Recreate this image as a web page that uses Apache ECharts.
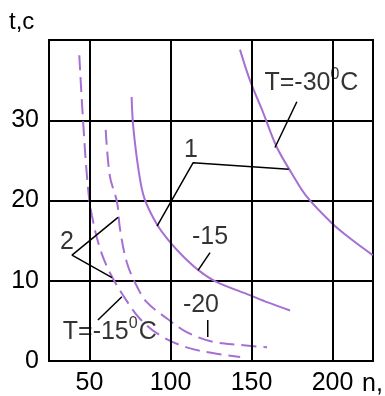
<!DOCTYPE html>
<html>
<head>
<meta charset="utf-8">
<script src="https://cdn.jsdelivr.net/npm/echarts@6/dist/echarts.min.js"></script>
</head>
<body style="margin:0;background:#fff;">
<div id="chart" style="width:385px;height:396px;"></div>
<script type="text/javascript">
	// тики осей
	var xTicks = [50, 100, 150, 200];
	var yTicks = [0, 10, 20, 30];

	// кривые t(n): [n, t]
	var curveM30 = [[142.9,38.8],[149,35.0],[157.3,30.9],[165.5,26.7],[174.8,23.4],[184,20.5],[199.5,17.2],[212,15.1],[224.8,13.2]];
	var curveM15 = [[76,32.9],[77,29.2],[80.5,23.5],[84,20.2],[91.7,17.0],[99.7,14.8],[108,13],[118,11.2],[128,9.9],[149,8.2],[160,7.3],[173.8,6.3]];
	var dashM15 = [[43.7,38.1],[46,30],[49,21.7],[51.5,18.1],[56.5,14],[62.6,11],[70.7,8.2],[81,5.3],[93.5,3.2],[110,1.7],[126,1.0],[143,0.5]];
	var dashM20 = [[60,28.8],[62.6,23],[67,19.8],[68.8,16.5],[73,12.3],[79,9.4],[85.5,7.3],[97.8,5.3],[110,3.6],[126,2.4],[143,2.0],[159.6,1.7]];

	// выноски
	var leaders = [
		[[178,32.3],[164.5,26.6]],
		[[173,23.9],[113.9,24.7],[91.7,16.8]],
		[[67.6,17.9],[39.2,13.2],[63.9,10.4]],
		[[124.4,13.5],[117,11.3]],
		[[123,5.1],[123,3.0]],
		[[55.2,5.1],[70,8.0]]
	];

	// подписи
	var notes = [
		{name: 'T=-30{s|0}C', value: [187, 34.6]},
		{name: '1', value: [112.7, 26.3]},
		{name: '2', value: [36.1, 14.8]},
		{name: '-15', value: [124.4, 15.4]},
		{name: '-20', value: [118.8, 7.0]},
		{name: 'T=-15{s|0}C', value: [62.5, 3.6]}
	];

	var purple = '#a66fd3';
	var font = 'Liberation Sans, Arial, sans-serif';

	var series = [];
	function curve(data, dashed){
		series.push({
			type: 'line', data: data, smooth: 0.35, symbol: 'none', silent: true,
			lineStyle: {color: purple, width: 2, type: dashed ? [15, 7] : 'solid'}
		});
	}
	curve(curveM30, false);
	curve(curveM15, false);
	curve(dashM15, true);
	curve(dashM20, true);

	// вертикальные линии сетки
	series[0].markLine = {
		silent: true, symbol: 'none', label: {show: false},
		lineStyle: {color: '#000', width: 2, type: 'solid'},
		data: xTicks.map(function(v){ return {xAxis: v}; })
	};

	leaders.forEach(function(l){
		series.push({
			type: 'line', data: l, symbol: 'none', silent: true,
			lineStyle: {color: '#000', width: 1.5}
		});
	});

	series.push({
		type: 'scatter', data: notes, symbolSize: 0, silent: true,
		label: {
			show: true, position: 'inside', color: '#000', fontSize: 25, fontFamily: font,
			formatter: function(p){ return p.name; },
			rich: {s: {fontSize: 16, color: '#000', fontFamily: font, padding: [0, 1, 17, 0]}}
		}
	});

	var myChart = echarts.init(document.getElementById('chart'));
	var option = {
		animation: false,
		grid: {left: 49, right: 12, top: 40, bottom: 34, show: true, borderColor: '#000', borderWidth: 2},
		xAxis: {
			type: 'value', min: 25, max: 225, interval: 25,
			axisLine: {show: false}, axisTick: {show: false}, splitLine: {show: false},
			axisLabel: {
				color: '#000', fontSize: 25, fontFamily: font, margin: 10,
				formatter: function(v){ return xTicks.indexOf(v) >= 0 ? v : ''; }
			}
		},
		yAxis: {
			type: 'value', min: 0, max: 40, interval: 10,
			axisLine: {show: false}, axisTick: {show: false},
			splitLine: {show: true, lineStyle: {color: '#000', width: 2}},
			axisLabel: {
				color: '#000', fontSize: 25, fontFamily: font, margin: 10,
				formatter: function(v){ return yTicks.indexOf(v) >= 0 ? v : ''; }
			}
		},
		graphic: [
			{type: 'text', left: 9, top: 10, style: {text: 't,c', fontSize: 24, fontFamily: font, fill: '#000'}},
			{type: 'text', left: 362, top: 372, style: {text: 'n,', fontSize: 25, fontFamily: font, fill: '#000'}}
		],
		series: series
	};
	myChart.setOption(option);
</script>
</body>
</html>
